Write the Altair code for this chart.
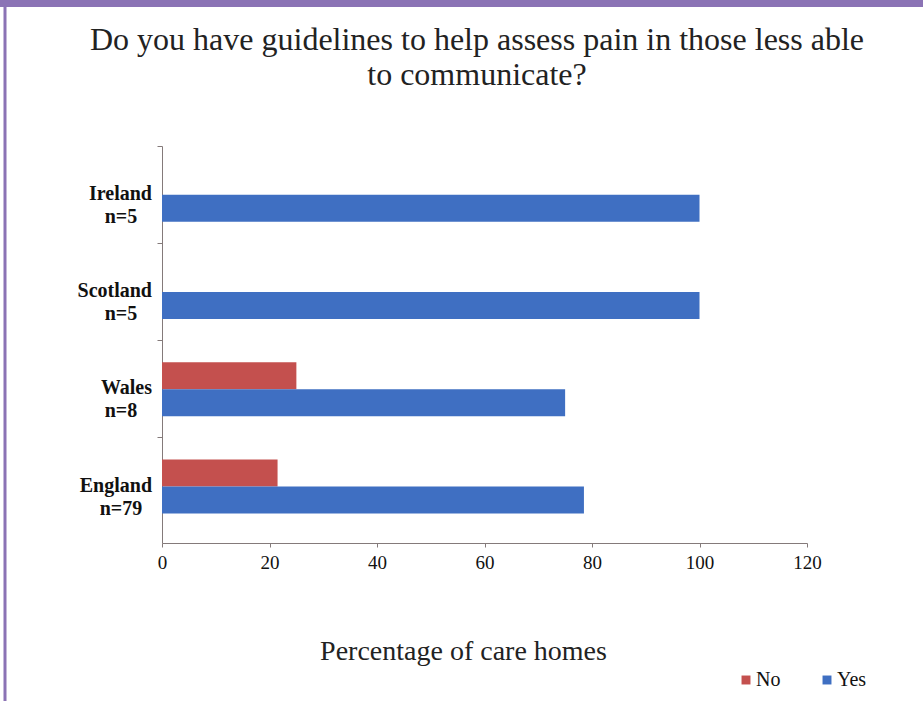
import altair as alt
import pandas as pd

countries = ["Ireland", "Scotland", "Wales", "England"]
n_labels = ["n=5", "n=5", "n=8", "n=79"]
no_values = [0, 0, 25, 21.5]
yes_values = [100, 100, 75, 78.5]
responses = ["No", "Yes"]
x_ticks = [0, 20, 40, 60, 80, 100, 120]
title_lines = ["Do you have guidelines to help assess pain in those less able", "to communicate?"]

RED = "#c4504e"
BLUE = "#3f6fc2"
PURPLE = "#8b73b5"
AXIS = "#847a7a"
SERIF = "Liberation Serif"

rows = []
for c, no, yes in zip(countries, no_values, yes_values):
    rows.append({"country": c, "response": "No", "value": no})
    rows.append({"country": c, "response": "Yes", "value": yes})
bars_df = pd.DataFrame(rows)
labels_df = pd.DataFrame({"country": countries, "n": n_labels})
title_df = pd.DataFrame({"t": ["\n".join(title_lines)]})

W, H = 645, 397
PL, PT = 162, 146

yscale = alt.Scale(domain=countries, paddingInner=0, paddingOuter=0.04, align=0)

bars = alt.Chart(bars_df).mark_bar().encode(
    x=alt.X("value:Q", scale=alt.Scale(domain=[0, 120]),
            axis=alt.Axis(values=x_ticks, title="Percentage of care homes", grid=False,
                          labelFlush=False,
                          domainColor=AXIS, tickColor=AXIS, tickSize=4, labelPadding=6,
                          labelFont=SERIF, labelFontSize=19, labelColor="#111",
                          titleFont=SERIF, titleFontSize=28, titleFontWeight="normal",
                          titleColor="#222", titlePadding=65, titleX=301)),
    y=alt.Y("country:N", scale=yscale, sort=countries,
            axis=alt.Axis(title=None, labels=False, bandPosition=0, domainColor=AXIS,
                          tickColor=AXIS, tickSize=5)),
    yOffset=alt.YOffset("response:N", sort=responses,
                        scale=alt.Scale(paddingInner=0, paddingOuter=0.8)),
    color=alt.Color("response:N", scale=alt.Scale(domain=responses, range=[RED, BLUE]),
                    legend=alt.Legend(title=None, orient="none", direction="horizontal",
                                      legendX=574, legendY=524, symbolType="square",
                                      symbolSize=80, symbolStrokeWidth=0,
                                      labelFont=SERIF, labelFontSize=20, labelColor="#111",
                                      columnPadding=36, labelOffset=0)),
)

names = alt.Chart(labels_df).mark_text(
    align="right", baseline="middle", font=SERIF, fontSize=20, fontWeight="bold",
    color="#111", dy=-1
).encode(x=alt.value(-10), y=alt.Y("country:N", sort=countries, scale=yscale), text="country:N")

ns = alt.Chart(labels_df).mark_text(
    align="center", baseline="middle", font=SERIF, fontSize=20, fontWeight="bold",
    color="#111", dy=22
).encode(x=alt.value(-41), y=alt.Y("country:N", sort=countries, scale=yscale), text="n:N")

title_mark = alt.Chart(title_df).mark_text(
    align="center", baseline="alphabetic", font=SERIF, fontSize=32, fontWeight="normal",
    color="#222", lineHeight=35, lineBreak="\n"
).encode(x=alt.value(477 - PL), y=alt.value(50 - PT), text="t:N")

frame_df = pd.DataFrame({"k": [0]})
left_border = alt.Chart(frame_df).mark_rule(color=PURPLE, strokeWidth=3).encode(
    x=alt.value(5 - PL), y=alt.value(-PT), y2=alt.value(701 - PT))
top_border = alt.Chart(frame_df).mark_rule(color=PURPLE, strokeWidth=7).encode(
    x=alt.value(-PL), x2=alt.value(923 - PL), y=alt.value(3.5 - PT))

chart = alt.layer(bars, names, ns, title_mark, left_border, top_border).properties(
    width=W, height=H,
    autosize=alt.AutoSizeParams(type="none"),
    padding={"left": PL, "top": PT, "right": 923 - PL - W, "bottom": 701 - PT - H},
).configure(background="white").configure_view(strokeWidth=0, stroke=None)

chart.save("out.html", embed_options={"renderer": "svg", "actions": False})
